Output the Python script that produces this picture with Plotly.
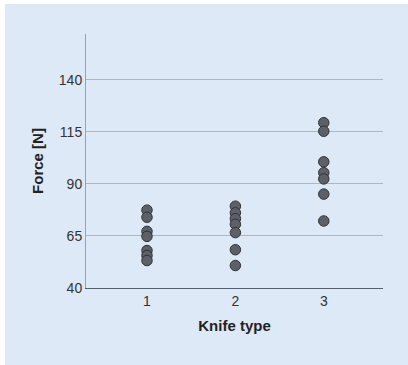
import plotly.graph_objects as go

knife_types = [1, 2, 3]
force_knife1 = [77.4, 74.0, 67.2, 64.8, 58.0, 55.6, 53.2]
force_knife2 = [79.3, 76.1, 73.3, 70.6, 66.6, 58.4, 50.8]
force_knife3 = [119.4, 115.3, 100.6, 95.4, 92.4, 85.1, 72.2]
y_ticks = [40, 65, 90, 115, 140]

BLUE = "#dde9f7"

fig = go.Figure()
for k, vals in zip(knife_types, [force_knife1, force_knife2, force_knife3]):
    fig.add_trace(go.Scatter(
        x=[k] * len(vals), y=vals, mode="markers",
        marker=dict(size=10.5, color="#5d6066", line=dict(color="#2f3236", width=1)),
        showlegend=False, hoverinfo="y"))

fig.update_layout(
    width=408, height=365,
    margin=dict(l=86, r=25, t=34, b=77),
    paper_bgcolor=BLUE,
    plot_bgcolor="rgba(0,0,0,0)",
    font=dict(family="Liberation Sans, Arial, sans-serif", size=14, color="#333333"),
    shapes=[
        # thin white border strips at the left and top edges
        dict(type="rect", xref="paper", yref="paper", layer="below",
             x0=-0.4, x1=-0.273, y0=-0.5, y1=1.3, fillcolor="white", line=dict(width=0)),
        dict(type="rect", xref="paper", yref="paper", layer="below",
             x0=-0.4, x1=1.3, y0=1.118, y1=1.3, fillcolor="white", line=dict(width=0)),
    ],
    xaxis=dict(range=[0.31, 3.67], tickvals=knife_types, ticktext=[str(k) for k in knife_types],
               showgrid=False, zeroline=False, showline=True, linecolor="#56606a", linewidth=1,
               ticks="", ticklen=0, tickfont=dict(size=14),
               title=dict(text="<b>Knife type</b>", font=dict(size=15, color="#222222"), standoff=12)),
    yaxis=dict(range=[40, 162], tickvals=y_ticks, showgrid=True, gridcolor="#aeb7c0", gridwidth=1,
               zeroline=False, showline=True, linecolor="#9aa3ac", linewidth=1,
               ticks="", ticklen=0, tickfont=dict(size=14),
               title=dict(text="<b>Force [N]</b>", font=dict(size=15, color="#222222"), standoff=11)),
)

fig.write_html("out.html",
               post_script="document.body.style.margin='0';document.body.style.background='%s';"
                           "document.documentElement.style.background='%s';" % (BLUE, BLUE))
